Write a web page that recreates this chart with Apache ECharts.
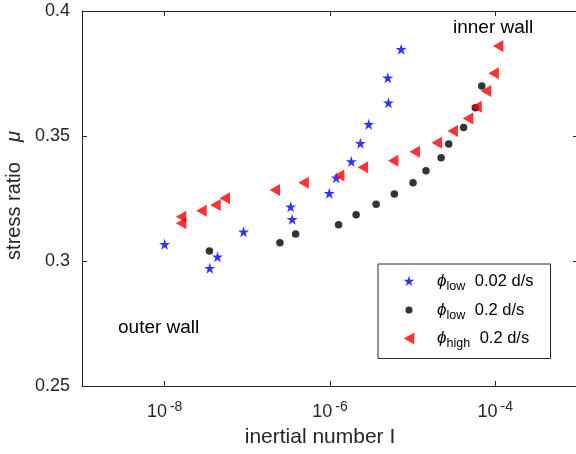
<!DOCTYPE html>
<html><head><meta charset="utf-8">
<script src="https://cdn.jsdelivr.net/npm/echarts@6/dist/echarts.min.js"></script>
<style>html,body{margin:0;padding:0;background:#fff}#c{width:576px;height:454px}</style>
</head><body><div id="c"></div>
<script>
// ---- data ----
const seriesNames = ['ϕlow 0.02 d/s', 'ϕlow 0.2 d/s', 'ϕhigh 0.2 d/s'];
const legendSub = ['low', 'low', 'high'];
const legendRate = ['0.02 d/s', '0.2 d/s', '0.2 d/s'];
const xTickValues = [1e-8, 1e-6, 1e-4];
const yTickValues = [0.25, 0.3, 0.35, 0.4];

const starI  = [1.00e-8, 3.51e-8, 4.36e-8, 9.0e-8, 3.34e-7, 3.49e-7, 9.8e-7, 1.19e-6, 1.81e-6, 2.33e-6, 2.94e-6, 5.09e-6, 5.00e-6, 7.26e-6];
const starMu = [0.3067, 0.2971, 0.3017, 0.3117, 0.3217, 0.3167, 0.3271, 0.3333, 0.3398, 0.3471, 0.3547, 0.3633, 0.3733, 0.3847];
const dotI   = [3.48e-8, 2.48e-7, 3.84e-7, 1.27e-6, 2.07e-6, 3.61e-6, 6.01e-6, 1.01e-5, 1.45e-5, 2.21e-5, 2.73e-5, 4.13e-5, 5.73e-5, 6.85e-5];
const dotMu  = [0.304, 0.3073, 0.3108, 0.3145, 0.3185, 0.3227, 0.3268, 0.3313, 0.3361, 0.3413, 0.3468, 0.3534, 0.3613, 0.370];
const triI   = [1.58e-8, 1.58e-8, 2.79e-8, 4.12e-8, 5.33e-8, 2.15e-7, 4.80e-7, 1.29e-6, 2.50e-6, 5.81e-6, 1.06e-5, 1.96e-5, 3.05e-5, 4.68e-5, 5.93e-5, 7.71e-5, 9.53e-5, 1.08e-4];
const triMu  = [0.3177, 0.3151, 0.3201, 0.3224, 0.3251, 0.3284, 0.3313, 0.3342, 0.3375, 0.3401, 0.3437, 0.3473, 0.352, 0.357, 0.3617, 0.368, 0.3751, 0.386];

// ---- styling ----
const FONT = '"Liberation Sans", Arial, Helvetica, sans-serif';
const AX = '#262626';
const starPath = 'path://M0,-10 L2.245,-3.09 L9.511,-3.09 L3.633,1.18 L5.878,8.09 L0,3.82 L-5.878,8.09 L-3.633,1.18 L-9.511,-3.09 L-2.245,-3.09 Z';
const starLegend = 'path://M-10.5,-10.5 M10.5,10.5 M0,-10 L2.245,-3.09 L9.511,-3.09 L3.633,1.18 L5.878,8.09 L0,3.82 L-5.878,8.09 L-3.633,1.18 L-9.511,-3.09 L-2.245,-3.09 Z';
const dotLegend = 'path://M0,0 M12,12 M6,2.4 A3.6,3.6 0 1 1 5.99,2.4 Z';
const triPath = 'path://M0,6 L10.5,0 L10.5,12 Z';

const zip = (a, b) => a.map((v, i) => [v, b[i]]);

const mkTick = extra => Object.assign({ show: true, inside: true, length: 5, lineStyle: { color: AX, width: 1 } }, extra || {});
const mkLine = () => ({ show: true, onZero: false, lineStyle: { color: AX, width: 1 } });

const chart = echarts.init(document.getElementById('c'), null, { renderer: 'canvas' });
chart.setOption({
  animation: false,
  backgroundColor: '#fff',
  textStyle: { fontFamily: FONT },
  grid: { left: 82, right: -2, top: 11, bottom: 68, containLabel: false, outerBoundsMode: 'none' },
  xAxis: [{
    type: 'log', logBase: 10, min: 1e-9, max: 1e-3, position: 'bottom',
    name: 'inertial number I', nameLocation: 'middle', nameGap: 41,
    nameTextStyle: { fontSize: 21, color: AX, fontFamily: FONT, padding: [0, 20, 0, 0] },
    axisLine: mkLine(),
    axisTick: mkTick({ customValues: xTickValues }),
    axisLabel: {
      customValues: xTickValues, margin: 14, color: AX, fontFamily: FONT,
      formatter: v => '{b|10}{s|' + Math.round(Math.log10(v)) + '}',
      rich: {
        b: { fontSize: 18, lineHeight: 24, color: AX, fontFamily: FONT },
        s: { fontSize: 14, lineHeight: 9, verticalAlign: 'top', padding: [0, 0, 0, 3], color: AX, fontFamily: FONT }
      }
    },
    splitLine: { show: false }
  }, {
    type: 'log', logBase: 10, min: 1e-9, max: 1e-3, position: 'top',
    axisLine: mkLine(),
    axisTick: mkTick({ customValues: xTickValues }),
    axisLabel: { show: false }, splitLine: { show: false }
  }],
  yAxis: [{
    type: 'value', min: 0.25, max: 0.4, interval: 0.05, position: 'left',
    name: '{a|stress ratio}{m|μ}', nameLocation: 'middle', nameGap: 50,
    nameTextStyle: {
      padding: [0, 0, 0, 6],
      rich: {
        a: { fontSize: 20, color: AX, fontFamily: FONT },
        m: { fontSize: 20, color: AX, fontFamily: FONT, fontStyle: 'italic', padding: [0, 0, 0, 20] }
      }
    },
    axisLine: mkLine(), axisTick: mkTick(),
    axisLabel: { fontSize: 18, color: AX, margin: 12, fontFamily: FONT },
    splitLine: { show: false }
  }, {
    type: 'value', min: 0.25, max: 0.4, interval: 0.05, position: 'right',
    axisLine: mkLine(), axisTick: mkTick(),
    axisLabel: { show: false }, splitLine: { show: false }
  }],
  legend: {
    orient: 'vertical', left: 378, top: 264,
    itemWidth: 12, itemHeight: 12, itemGap: 8,
    padding: [9, 17, 8, 25],
    borderColor: AX, borderWidth: 1, backgroundColor: '#fff',
    data: [
      { name: seriesNames[0], icon: starLegend, itemStyle: { color: '#0000ff' } },
      { name: seriesNames[1], icon: dotLegend, itemStyle: { color: '#000000' } },
      { name: seriesNames[2], icon: triPath, itemStyle: { color: '#ff0000' } }
    ],
    formatter: name => {
      const i = seriesNames.indexOf(name);
      return '{p|ϕ}{s|' + legendSub[i] + '}{t| ' + legendRate[i] + '}';
    },
    textStyle: {
      rich: {
        p: { fontSize: 17, fontStyle: 'italic', lineHeight: 24, color: '#000', fontFamily: FONT, padding: [0, 0, 0, 17] },
        s: { fontSize: 12.5, lineHeight: 12, verticalAlign: 'bottom', color: '#000', fontFamily: FONT },
        t: { fontSize: 16.5, lineHeight: 24, color: '#000', fontFamily: FONT, padding: [0, 0, 0, 5] }
      }
    }
  },
  series: [{
    name: seriesNames[0], type: 'scatter', data: zip(starI, starMu),
    symbol: starPath, symbolSize: 11, itemStyle: { color: '#0000ff' }, z: 2
  }, {
    name: seriesNames[1], type: 'scatter', data: zip(dotI, dotMu),
    symbol: 'circle', symbolSize: 7.5, itemStyle: { color: '#000000' }, z: 3
  }, {
    name: seriesNames[2], type: 'scatter', data: zip(triI, triMu),
    symbol: triPath, symbolSize: [10.5, 12], itemStyle: { color: '#ff0000' }, z: 4
  }],
  graphic: [
    { type: 'text', left: 453, top: 18, style: { text: 'inner wall', fontSize: 19, fill: '#000', fontFamily: FONT } },
    { type: 'text', left: 118, top: 318, style: { text: 'outer wall', fontSize: 19, fill: '#000', fontFamily: FONT } }
  ]
});
</script>
</body></html>
